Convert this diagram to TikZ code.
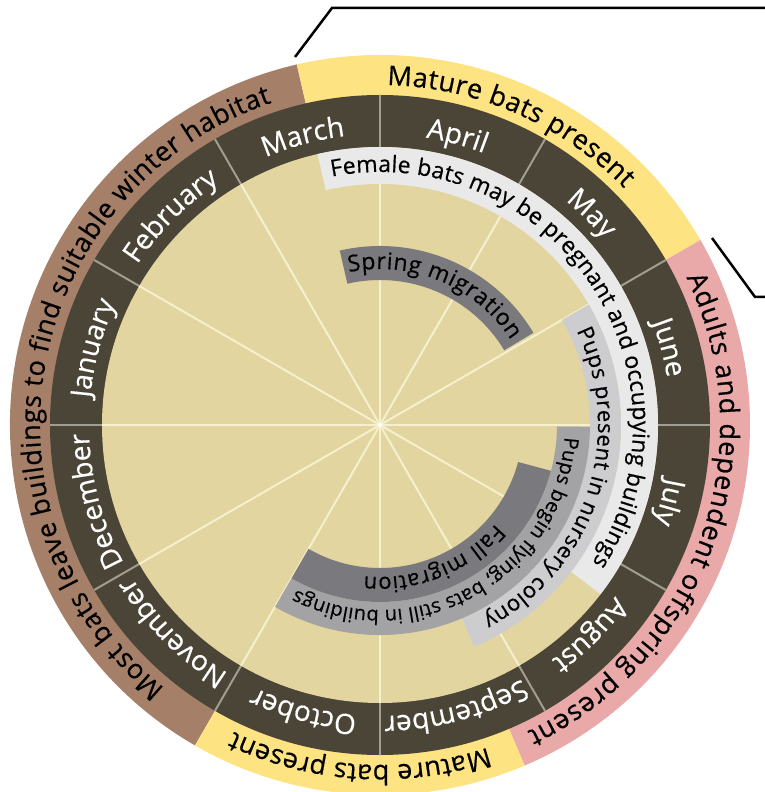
\documentclass[tikz,border=0pt]{standalone}
\usepackage{fontspec}
\setmainfont{Open Sans}[FakeBold=0.45]
\usetikzlibrary{decorations.text}
\definecolor{ringbrown}{RGB}{166,127,104}
\definecolor{ringyellow}{RGB}{253,227,130}
\definecolor{ringpink}{RGB}{232,169,168}
\definecolor{monthdark}{RGB}{74,69,54}
\definecolor{discbeige}{RGB}{226,213,159}
\definecolor{bandfemale}{RGB}{233,233,233}
\definecolor{bandpups}{RGB}{205,205,207}
\definecolor{bandflying}{RGB}{163,163,165}
\definecolor{bandmigr}{RGB}{122,122,126}
\definecolor{spokecol}{RGB}{246,240,207}
\definecolor{dividercol}{RGB}{160,157,146}
\tikzset{
  spokeline/.style={draw=spokecol, line width=2pt},
  dividerline/.style={draw=dividercol, line width=2pt},
  bracketline/.style={draw=black, line width=2.5pt, line join=miter},
}
% annular sector: r_in, r_out, start angle, end angle, colour
\newcommand\sectorfill[5]{\fill[#5] (#3:#1pt) arc[start angle=#3, end angle=#4, radius=#1pt] -- (#4:#2pt) arc[start angle=#4, end angle=#3, radius=#2pt] -- cycle;}
% text fitted along a clockwise arc: radius, start, end, size, colour, text
\newcommand\fitlabel[6]{\path[decorate, decoration={text along path, text align={fit to path}, text={|\fontsize{#4}{#4}\selectfont\color{#5}|#6}}] (#2:#1pt) arc[start angle=#2, end angle=#3, radius=#1pt];}
% month label centred in its sector: centre angle, text
\newcommand\monthlabel[2]{\path[decorate, decoration={text along path, text align=center, text={|\fontsize{28}{28}\selectfont\color{white}|#2}}] (#1+15:291pt) arc[start angle=#1+15, end angle=#1-15, radius=291pt];}
\begin{document}
\begin{tikzpicture}[x=1pt, y=1pt]
\useasboundingbox (-380,-367) rectangle (385,425);
% outer ring
\sectorfill{329}{370}{103}{240}{ringbrown}
\sectorfill{329}{370}{30}{103}{ringyellow}
\sectorfill{329}{370}{-67}{30}{ringpink}
\sectorfill{329}{370}{-120}{-67}{ringyellow}
% month ring and disc
\fill[monthdark] (0,0) circle[radius=330pt];
\fill[discbeige] (0,0) circle[radius=278pt];
\coordinate (ctr) at (0,0);
\foreach \a in {0,30,...,330} {
  \draw[dividerline] (\a:278pt) -- (\a:330pt);
  \draw[spokeline] (ctr) -- (\a:278pt);
}
\fill[white] (ctr) circle[radius=2pt];
% bands
\sectorfill{241}{278}{103}{-37.5}{bandfemale}
\sectorfill{210}{241}{30}{-67}{bandpups}
\sectorfill{177}{210}{-0.5}{-120}{bandflying}
\sectorfill{143}{177}{-15}{-120}{bandmigr}
\sectorfill{145}{179}{103}{31}{bandmigr}
% outer ring texts
\fitlabel{340}{88.8}{44.1}{27}{black}{Mature bats present}
\fitlabel{340}{25.7}{-64.3}{27}{black}{Adults and dependent offspring present}
\fitlabel{340}{-71.5}{-115.5}{27}{black}{Mature bats present}
\fitlabel{340}{230.7}{108.6}{27}{black}{Most bats leave buildings to find suitable winter habitat}
% months
\monthlabel{105}{March}
\monthlabel{75}{April}
\monthlabel{45}{May}
\monthlabel{15}{June}
\monthlabel{-15}{July}
\monthlabel{-45}{August}
\monthlabel{-75}{September}
\monthlabel{-105}{October}
\monthlabel{-135}{November}
\monthlabel{-165}{December}
\monthlabel{165}{January}
\monthlabel{135}{February}
% band texts
\fitlabel{253}{101}{-33}{23}{black}{Female bats may be pregnant and occupying buildings}
\fitlabel{218}{25.6}{-61.8}{22}{black}{Pups present in nursery colony}
\fitlabel{185}{-3.7}{-117}{20}{black}{Pups begin flying; bats still in buildings}
\fitlabel{152}{-40.5}{-96}{22}{black}{Fall migration}
\fitlabel{156}{101.5}{33}{23}{black}{Spring migration}
% bracket lines
\coordinate (b1a) at (-85,368);
\coordinate (b1b) at (-48,417);
\coordinate (b1c) at (386,417);
\coordinate (b2a) at (332,187);
\coordinate (b2b) at (375,128);
\coordinate (b2c) at (386,128);
\draw[bracketline] (b1a) -- (b1b) -- (b1c);
\draw[bracketline] (b2a) -- (b2b) -- (b2c);
\end{tikzpicture}
\end{document}
